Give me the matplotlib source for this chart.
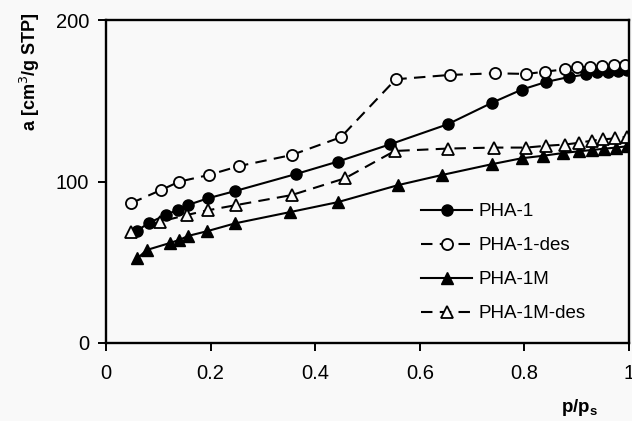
import matplotlib
matplotlib.use('Agg')
import matplotlib.pyplot as plt

# Данные
x_pha1 = [0.059, 0.083, 0.115, 0.137, 0.156, 0.195, 0.247, 0.363, 0.443, 0.543,
          0.653, 0.739, 0.795, 0.841, 0.885, 0.918, 0.939, 0.960, 0.979, 0.996]
y_pha1 = [69.5, 74.5, 79.4, 82.5, 85.4, 89.6, 94.1, 104.6, 112.3, 123.0,
          135.4, 148.9, 156.9, 161.6, 164.7, 166.3, 167.5, 168.1, 168.4, 169.0]

x_pha1_des = [0.048, 0.105, 0.140, 0.196, 0.255, 0.355, 0.449, 0.554, 0.658,
              0.744, 0.804, 0.839, 0.878, 0.901, 0.925, 0.948, 0.971, 0.992]
y_pha1_des = [86.6, 94.7, 99.9, 104.0, 109.6, 116.4, 127.4, 163.3, 166.0,
              167.0, 166.6, 168.0, 169.5, 170.7, 171.0, 171.5, 172.0, 172.1]

x_pha1m = [0.060, 0.078, 0.122, 0.140, 0.157, 0.193, 0.247, 0.351, 0.443, 0.559,
           0.642, 0.739, 0.795, 0.835, 0.873, 0.904, 0.929, 0.952, 0.975, 0.996]
y_pha1m = [52.4, 57.6, 61.9, 63.8, 66.3, 69.2, 74.1, 81.0, 87.2, 97.8,
           104.0, 110.8, 114.4, 115.9, 117.6, 118.7, 119.5, 120.3, 121.0, 121.8]

x_pha1m_des = [0.048, 0.103, 0.155, 0.195, 0.249, 0.355, 0.457, 0.552, 0.654,
               0.742, 0.803, 0.841, 0.878, 0.905, 0.929, 0.951, 0.973, 0.996]
y_pha1m_des = [68.7, 75.1, 79.3, 82.2, 85.4, 91.6, 102.0, 118.9, 120.4,
               121.0, 121.0, 122.1, 122.9, 124.0, 125.3, 126.1, 126.7, 127.7]

x_ticks = [0, 0.2, 0.4, 0.6, 0.8, 1]
x_tick_labels = ['0', '0.2', '0.4', '0.6', '0.8', '1']
y_ticks = [0, 100, 200]

plt.rcParams['font.family'] = ['Liberation Sans', 'DejaVu Sans']

bg = '#f9f9f9'
fig = plt.figure(figsize=(6.32, 4.21), dpi=100, facecolor=bg)
ax = fig.add_axes([106 / 632, 78 / 421, 523 / 632, 323 / 421], facecolor=bg)

dash = (0, (5.5, 3.5))
lw = 1.5
ms = 8

ax.plot(x_pha1, y_pha1, '-', color='black', lw=lw, marker='o', ms=ms,
        mfc='black', mec='black', label='PHA-1')
ax.plot(x_pha1_des, y_pha1_des, linestyle=dash, color='black', lw=lw, marker='o',
        ms=ms, mfc=bg, mec='black', mew=1.3, label='PHA-1-des')
ax.plot(x_pha1m, y_pha1m, '-', color='black', lw=lw, marker='^', ms=ms + 0.5,
        mfc='black', mec='black', label='PHA-1M')
ax.plot(x_pha1m_des, y_pha1m_des, linestyle=dash, color='black', lw=lw, marker='^',
        ms=ms + 0.5, mfc=bg, mec='black', mew=1.3, label='PHA-1M-des')

ax.set_xlim(0, 1)
ax.set_ylim(0, 200)
ax.set_xticks(x_ticks)
ax.set_xticklabels(x_tick_labels)
ax.set_yticks(y_ticks)
ax.tick_params(direction='out', length=6, width=1.4, labelsize=14.5, pad=6)
ax.tick_params(axis='x', pad=9)
for s in ax.spines.values():
    s.set_linewidth(1.7)

ax.set_ylabel('a [cm$^3$/g STP]', fontsize=13, fontweight='bold')
ax.yaxis.set_label_coords(-0.122, 0.84)
ax.set_xlabel('p/p$_\\mathregular{s}$', fontsize=13.5, fontweight='bold')
ax.xaxis.set_label_coords(0.906, -0.168)

ax.legend(loc='upper left', bbox_to_anchor=(0.602, 0.433), frameon=False,
          fontsize=13.5, handlelength=2.75, handletextpad=0.3,
          labelspacing=0.9, borderpad=0, borderaxespad=0)

fig.savefig('out.png', dpi=100, facecolor=bg)
